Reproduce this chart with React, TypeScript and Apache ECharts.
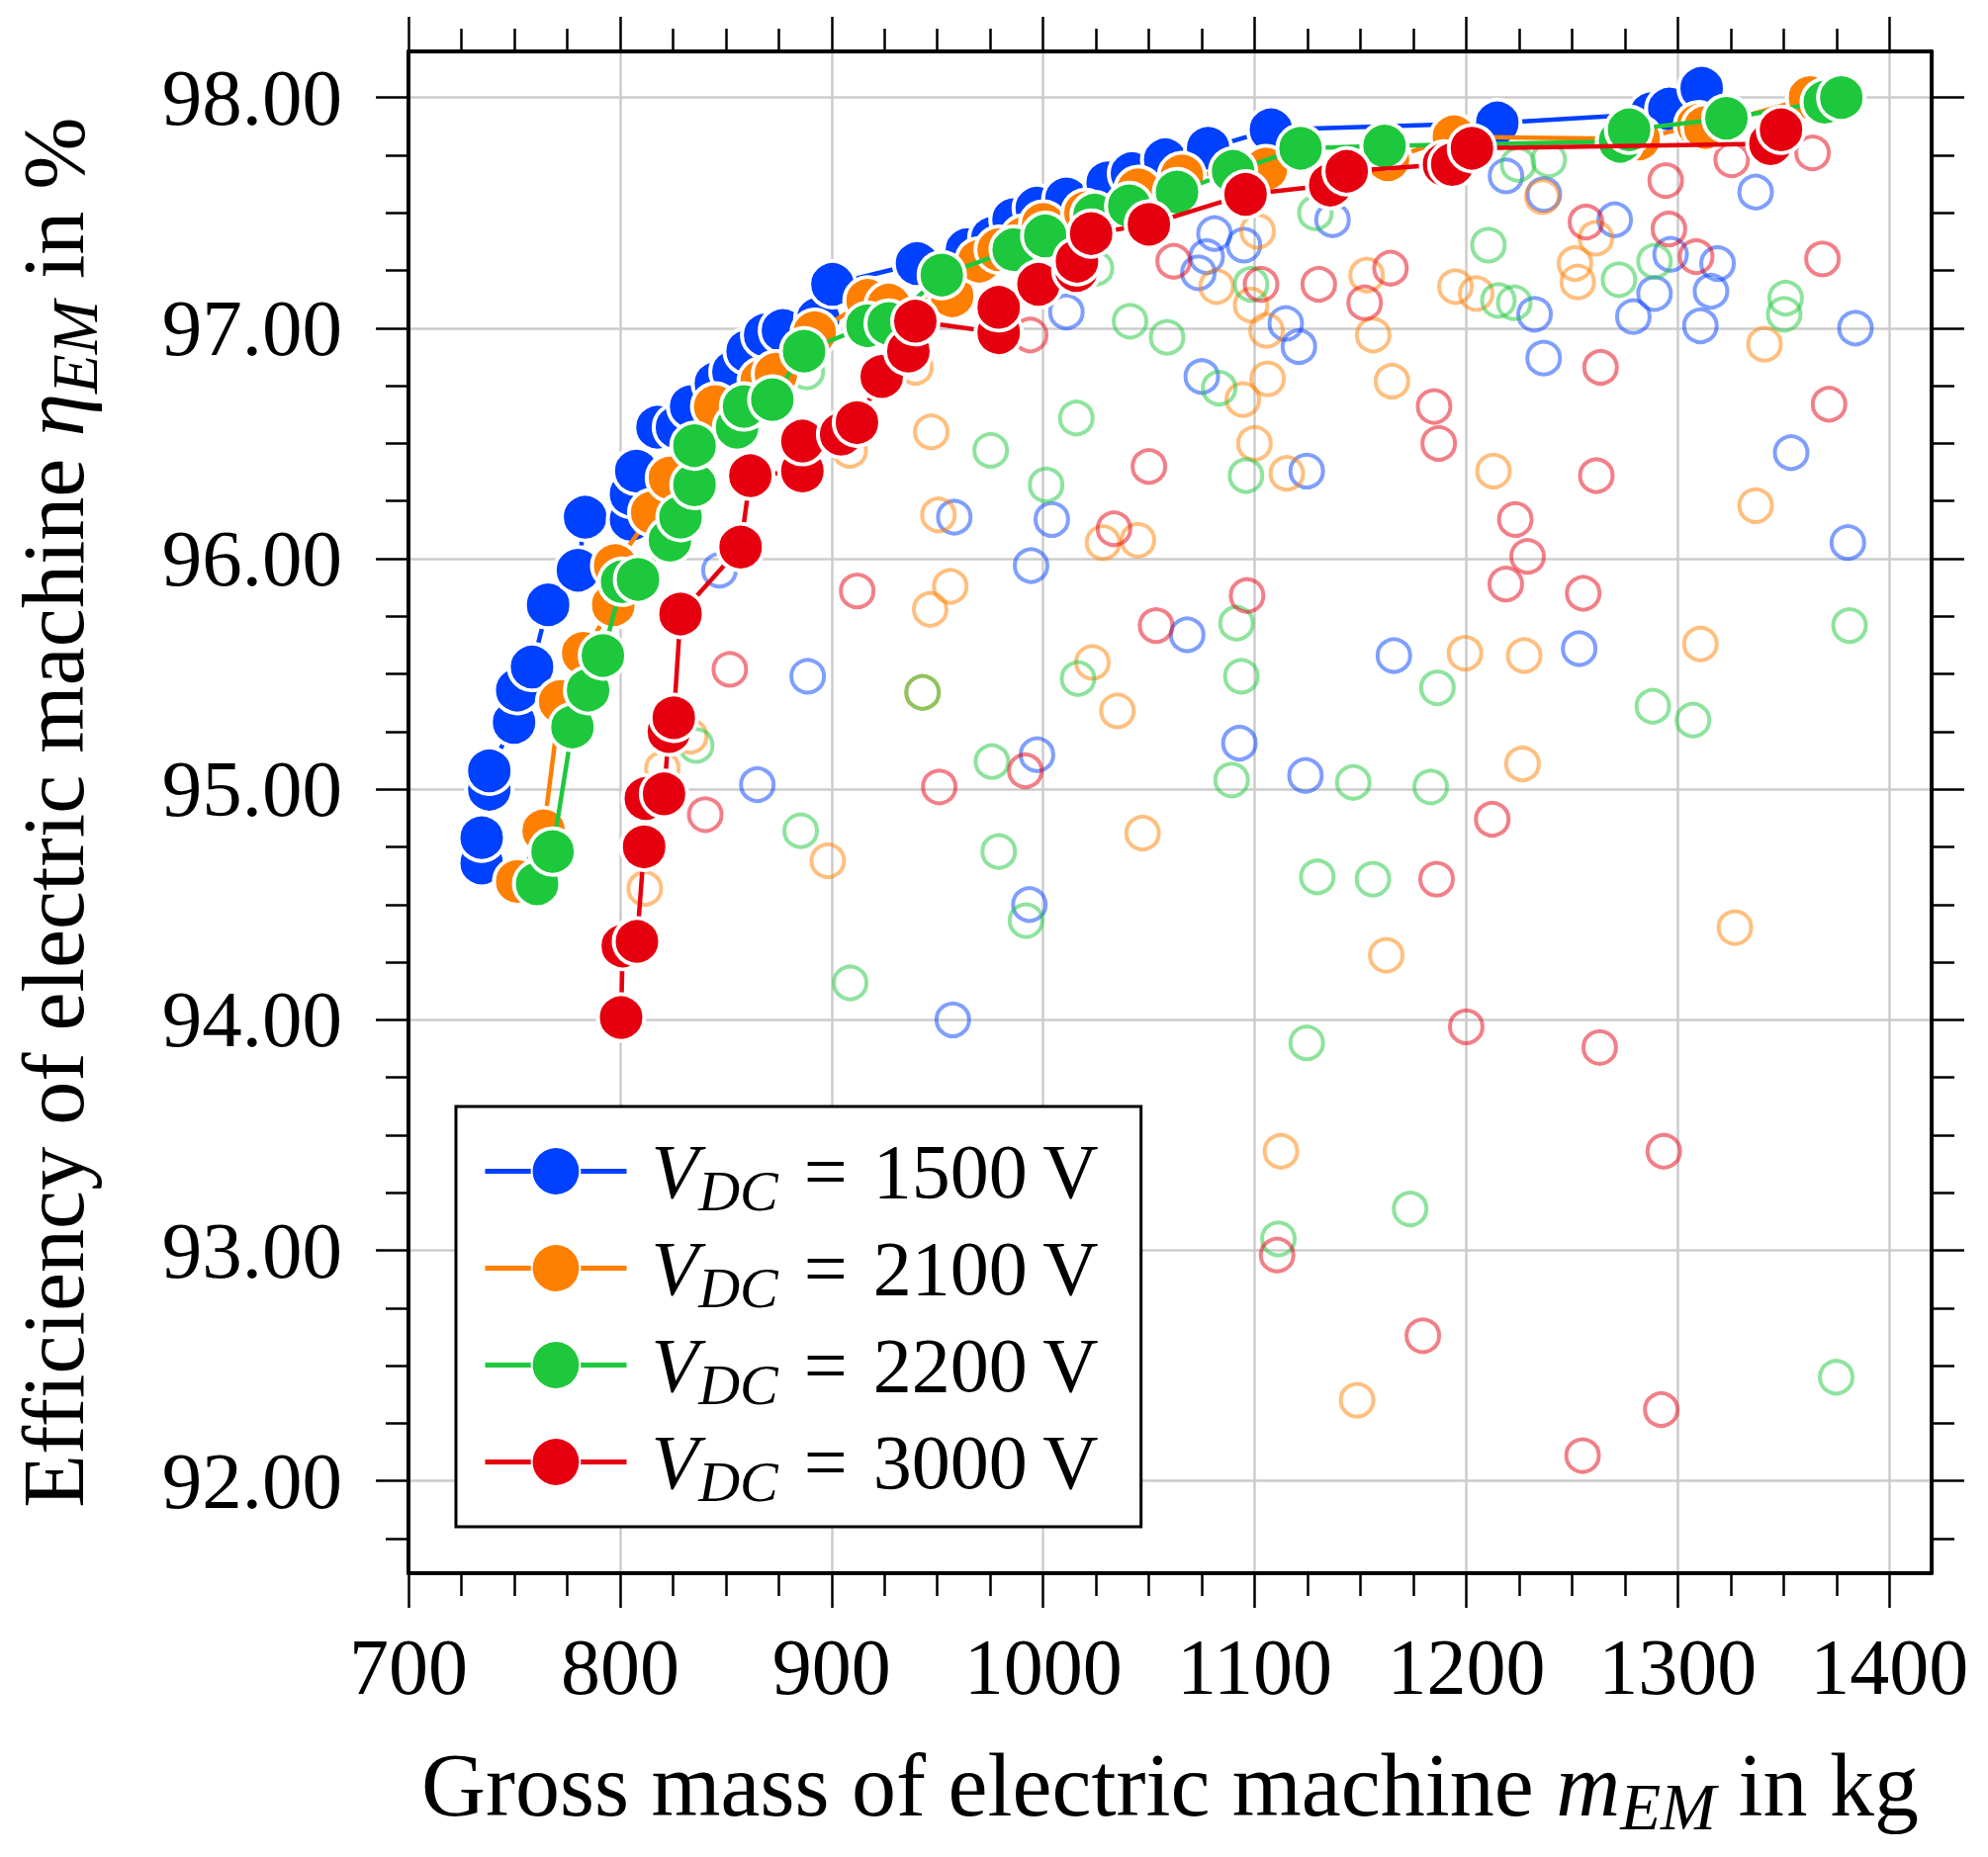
import React, { useEffect, useRef } from "react";
import * as echarts from "echarts";

const FONT = "'Liberation Serif', 'DejaVu Serif', serif";

const voltages = ["1500", "2100", "2200", "3000"];
const colors = ["#0040ff", "#ff7f00", "#1ec83c", "#e6000f"];

const xMajorTicks = [700, 800, 900, 1000, 1100, 1200, 1300, 1400];
const xMinorTicks = [725, 750, 775, 825, 850, 875, 925, 950, 975, 1025, 1050, 1075, 1125, 1150, 1175, 1225, 1250, 1275, 1325, 1350, 1375];
const yMajorTicks = [92, 93, 94, 95, 96, 97, 98];
const yMinorTicks = [91.75, 92.25, 92.5, 92.75, 93.25, 93.5, 93.75, 94.25, 94.5, 94.75, 95.25, 95.5, 95.75, 96.25, 96.5, 96.75, 97.25, 97.5, 97.75];

// Pareto fronts (filled markers, connected)
const front1500 = [
  [734.6, 94.68], [734.6, 94.79], [738.2, 95.0], [738.2, 95.08], [749.9, 95.29], [751.4, 95.43], [758.4, 95.53],
  [766.0, 95.8], [780.1, 95.95], [783.5, 96.18], [805.2, 96.17], [805.2, 96.28], [807.7, 96.38], [817.7, 96.57],
  [826.9, 96.57], [833.6, 96.66], [845.3, 96.76], [853.6, 96.81], [860.3, 96.9], [868.6, 96.97], [877.0, 96.99],
  [893.7, 97.04], [900.4, 97.19], [940.4, 97.28], [964, 97.34], [976, 97.39], [986, 97.47], [997, 97.52],
  [1011, 97.56], [1030.5, 97.63], [1042, 97.67], [1057.7, 97.73], [1078, 97.78], [1107.7, 97.86],
  [1214.7, 97.89], [1287.6, 97.93], [1296, 97.95], [1311.3, 98.04],
];
const front2100 = [
  [751.4, 94.6], [763.9, 94.82], [771.7, 95.38], [782.6, 95.59], [796.8, 95.8], [797.7, 95.97], [815.2, 96.2],
  [823.6, 96.35], [845, 96.66], [867, 96.77], [873.7, 96.8], [892, 96.98], [917, 97.12], [927, 97.1],
  [957, 97.14], [969.8, 97.29], [979, 97.34], [991, 97.39], [1000, 97.45], [1020, 97.5], [1045, 97.6],
  [1065.6, 97.66], [1105.3, 97.69], [1163, 97.73], [1194.2, 97.83], [1281.5, 97.82], [1309.6, 97.88],
  [1313, 97.87], [1362.5, 98.0],
];
const front2200 = [
  [760.8, 94.59], [768.1, 94.73], [777.5, 95.27], [784.9, 95.43], [791.9, 95.58], [801, 95.9], [808.5, 95.91],
  [823.6, 96.08], [828.6, 96.18], [835.2, 96.32], [835.2, 96.49], [855.3, 96.57], [858.6, 96.66], [872, 96.69],
  [887, 96.9], [917, 97.01], [927, 97.02], [952.1, 97.23], [986.1, 97.34], [1001, 97.4], [1024.3, 97.49],
  [1040.7, 97.53], [1063.3, 97.59], [1089.8, 97.68], [1121.7, 97.78], [1161.4, 97.79], [1272.7, 97.81],
  [1277, 97.86], [1323, 97.91], [1369.5, 97.98], [1377.3, 98.0],
];
const front3000 = [
  [800.5, 94.01], [801.3, 94.32], [808, 94.34], [811.4, 94.75], [812.2, 94.96], [820.8, 94.98], [823.1, 95.25],
  [825.4, 95.31], [828.6, 95.76], [857, 96.05], [861.6, 96.36], [886.2, 96.38], [886.2, 96.51], [904.5, 96.54],
  [912, 96.59], [923.7, 96.79], [936.3, 96.9], [939.6, 97.03], [979, 96.98], [979, 97.09], [997.8, 97.19],
  [1015.7, 97.25], [1016, 97.29], [1022.7, 97.41], [1050, 97.45], [1095.7, 97.58], [1135.7, 97.62],
  [1143.5, 97.68], [1189.5, 97.71], [1193.4, 97.71], [1202.7, 97.78], [1343.8, 97.8], [1348.8, 97.86],
];

// Dominated designs (hollow markers)
const other1500 = [
  [847, 95.95], [864.9, 95.02], [888.7, 95.49], [958, 96.18], [957.3, 94.0], [994.3, 95.97], [1004.1, 96.17],
  [997.1, 95.15], [993.5, 94.5], [1011, 97.07], [1068.1, 95.67], [1073.4, 97.24], [1077.3, 97.31], [1081, 97.41],
  [1075, 96.79], [1092.8, 95.2], [1094.9, 97.36], [1114.7, 97.02], [1120.9, 96.92], [1124.6, 96.38], [1124, 95.06],
  [1136.8, 97.47], [1165.8, 95.58], [1218.8, 97.66], [1236.7, 97.58], [1232.3, 97.06], [1236.6, 96.87],
  [1253.4, 95.61], [1270.2, 97.47], [1279, 97.05], [1289, 97.15], [1296.6, 97.32], [1310.7, 97.01],
  [1315.7, 97.16], [1318.8, 97.28], [1336.8, 97.59], [1353.6, 96.46], [1380.4, 96.07], [1384, 97.0],
];
const other2100 = [
  [811.7, 94.57], [820, 95.09], [833.2, 95.23], [898.2, 94.69], [908.6, 96.47], [939.6, 96.83], [943, 95.42],
  [946.6, 95.78], [947.1, 96.55], [950.5, 96.19], [956.1, 95.88], [1023.3, 95.55], [1028.3, 96.07], [1035.1, 95.34],
  [1044.8, 96.08], [1047, 94.81], [1082, 97.18], [1094.4, 96.69], [1098.3, 97.1], [1099.9, 96.5], [1101.4, 97.42],
  [1105.6, 96.99], [1106.1, 96.78], [1112.4, 93.43], [1115.2, 96.37], [1148.4, 92.35], [1152.9, 97.23],
  [1156, 96.97], [1162.2, 94.28], [1164.9, 96.77], [1194.9, 97.18], [1199.4, 95.59], [1204.7, 97.15],
  [1212.9, 96.38], [1226.6, 95.11], [1227.4, 95.58], [1236, 97.57], [1251.4, 97.28], [1252.7, 97.2],
  [1261.3, 97.39], [1310.7, 95.63], [1327, 94.4], [1336.8, 96.23], [1341, 96.93],
];
const other2200 = [
  [836, 95.19], [885.4, 94.82], [888.3, 96.81], [908.8, 94.16], [943, 95.42], [975.2, 96.47], [975.8, 95.12],
  [979, 94.73], [991.9, 94.43], [1001.4, 96.32], [1015.7, 96.61], [1016.5, 95.48], [1025, 97.26], [1041.1, 97.03],
  [1058.6, 96.96], [1083.2, 96.74], [1089.1, 95.04], [1091.4, 95.72], [1093.7, 95.49], [1095.9, 96.36],
  [1098.3, 97.19], [1111.2, 93.05], [1124.6, 93.9], [1128.7, 97.5], [1129.6, 94.62], [1146.6, 95.03],
  [1155.9, 94.61], [1173.5, 93.18], [1183.2, 95.01], [1186.4, 95.44], [1210.5, 97.36], [1215.2, 97.12],
  [1222.7, 97.11], [1224.5, 97.71], [1239, 97.73], [1272.2, 97.21], [1288.2, 95.36], [1289, 97.29],
  [1307.2, 95.3], [1350.3, 97.06], [1351, 97.13], [1374.9, 92.45], [1381.2, 95.71],
];
const other3000 = [
  [840.3, 94.89], [851.9, 95.52], [912.1, 95.86], [950.9, 95.01], [991.6, 95.08], [993.9, 96.97], [1033.5, 96.13],
  [1050, 96.4], [1053.4, 95.71], [1061.7, 97.29], [1096.4, 95.84], [1103, 97.19], [1110.6, 92.98], [1130.3, 97.19],
  [1152, 97.11], [1164.2, 97.26], [1179.5, 92.63], [1184.8, 96.66], [1186, 94.61], [1187, 96.5], [1200, 93.97],
  [1212.3, 94.87], [1218.7, 95.89], [1223.2, 96.17], [1229, 96.01], [1255, 92.11], [1255.3, 95.85],
  [1256.6, 97.46], [1261.5, 96.36], [1263.1, 93.88], [1263.5, 96.83], [1292.2, 92.31], [1293.4, 93.43],
  [1294.3, 97.64], [1295.8, 97.43], [1308.7, 97.31], [1325.5, 97.73], [1363.7, 97.76], [1368.4, 97.3],
  [1371.5, 96.67],
];

const fronts = [front1500, front2100, front2200, front3000];
const others = [other1500, other2100, other2200, other3000];

const X_MIN = 700;
const X_MAX = 1420;
const Y_MIN = 91.6;
const Y_MAX = 98.2;

function buildOption() {
  const seriesNames = voltages.map((v) => `VDC ${v}`);
  const sortPts = (arr: number[][]) =>
    arr.slice().sort((a, b) => (a[0] - b[0]) || (a[1] - b[1]));

  const hollow = others.map((pts, i) => ({
    type: "scatter",
    name: `dominated ${voltages[i]}`,
    data: pts,
    xAxisIndex: 0,
    yAxisIndex: 0,
    symbol: "circle",
    symbolSize: 33,
    itemStyle: { color: "rgba(255,255,255,0)", borderColor: colors[i], borderWidth: 4, opacity: 0.5 },
    emphasis: { disabled: true },
    z: 2,
  }));
  const lines = fronts.map((pts, i) => ({
    type: "line",
    name: seriesNames[i],
    data: sortPts(pts),
    xAxisIndex: 0,
    yAxisIndex: 0,
    symbol: "circle",
    symbolSize: 47,
    showSymbol: true,
    itemStyle: { color: colors[i], borderColor: "#ffffff", borderWidth: 4, opacity: 1 },
    lineStyle: { color: colors[i], width: 4.5 },
    emphasis: { disabled: true },
    z: 3 + i,
  }));

  const tickLine = { color: "#000", width: 2.5 };
  const frameLine = { show: true, lineStyle: { color: "#000", width: 4 } };
  const baseAxis = { type: "value", min: X_MIN, max: X_MAX, gridIndex: 0 };
  const baseYAxis = { type: "value", min: Y_MIN, max: Y_MAX, gridIndex: 0, splitNumber: 6 };

  const titleRich = (size: number) => ({
    i: { fontFamily: FONT, fontStyle: "italic", fontSize: size, lineHeight: 84, color: "#000" },
    s: {
      fontFamily: FONT,
      fontStyle: "italic",
      fontSize: Math.round(size * 0.74),
      lineHeight: 84,
      color: "#000",
      padding: [Math.round(size * 0.49), 0, 0, 0],
    },
  });

  const xAxes = [
    {
      ...baseAxis,
      position: "bottom",
      axisLine: frameLine,
      axisTick: { show: true, inside: false, length: 35, customValues: xMajorTicks, lineStyle: tickLine },
      axisLabel: {
        show: true,
        customValues: xMajorTicks,
        margin: 55,
        fontFamily: FONT,
        fontSize: 80,
        color: "#000",
        formatter: (v: number) => String(v),
      },
      splitLine: { show: true, lineStyle: { color: "#cccccc", width: 2.5 } },
      name: "Gross mass of electric machine {i|m}{s|EM} in kg",
      nameLocation: "middle",
      nameGap: 172,
      nameTextStyle: {
        fontFamily: FONT,
        fontSize: 90,
        color: "#000",
        lineHeight: 84,
        rich: titleRich(90),
      },
    },
    {
      ...baseAxis,
      position: "bottom",
      axisLine: { show: false },
      axisTick: { show: true, inside: false, length: 23, customValues: xMinorTicks, lineStyle: tickLine },
      axisLabel: { show: false },
      splitLine: { show: false },
    },
    {
      ...baseAxis,
      position: "top",
      axisLine: frameLine,
      axisTick: { show: true, inside: false, length: 35, customValues: xMajorTicks, lineStyle: tickLine },
      axisLabel: { show: false },
      splitLine: { show: false },
    },
    {
      ...baseAxis,
      position: "top",
      axisLine: { show: false },
      axisTick: { show: true, inside: false, length: 23, customValues: xMinorTicks, lineStyle: tickLine },
      axisLabel: { show: false },
      splitLine: { show: false },
    },
  ];

  const yAxes = [
    {
      ...baseYAxis,
      position: "left",
      axisLine: frameLine,
      axisTick: { show: true, inside: false, length: 33, customValues: yMajorTicks, lineStyle: tickLine },
      axisLabel: {
        show: true,
        customValues: yMajorTicks,
        margin: 67,
        fontFamily: FONT,
        fontSize: 81,
        color: "#000",
        formatter: (v: number) => v.toFixed(2),
      },
      splitLine: { show: true, lineStyle: { color: "#cccccc", width: 2.5 } },
      name: "Efficiency of electric machine {i|η}{s|EM} in %",
      nameLocation: "middle",
      nameGap: 317,
      nameTextStyle: {
        fontFamily: FONT,
        fontSize: 88,
        color: "#000",
        lineHeight: 84,
        rich: titleRich(88),
      },
    },
    {
      ...baseYAxis,
      position: "left",
      axisLine: { show: false },
      axisTick: { show: true, inside: false, length: 23, customValues: yMinorTicks, lineStyle: tickLine },
      axisLabel: { show: false },
      splitLine: { show: false },
    },
    {
      ...baseYAxis,
      position: "right",
      axisLine: frameLine,
      axisTick: { show: true, inside: false, length: 33, customValues: yMajorTicks, lineStyle: tickLine },
      axisLabel: { show: false },
      splitLine: { show: false },
    },
    {
      ...baseYAxis,
      position: "right",
      axisLine: { show: false },
      axisTick: { show: true, inside: false, length: 23, customValues: yMinorTicks, lineStyle: tickLine },
      axisLabel: { show: false },
      splitLine: { show: false },
    },
  ];

  return {
    animation: false,
    backgroundColor: "#ffffff",
    textStyle: { fontFamily: FONT },
    grid: { left: 413, top: 52, width: 1540, height: 1539, containLabel: false, outerBoundsMode: "none" },
    xAxis: xAxes,
    yAxis: yAxes,
    legend: {
      data: seriesNames,
      orient: "vertical",
      left: 461,
      top: 1119,
      padding: [17, 43, 17, 27],
      itemGap: 1,
      itemWidth: 143,
      itemHeight: 61,
      backgroundColor: "#ffffff",
      borderColor: "#000000",
      borderWidth: 3,
      borderRadius: 0,
      selectedMode: false,
      lineStyle: { width: 5 },
      formatter: (name: string) => {
        const v = name.replace("VDC ", "");
        return `{v|V}{s|DC}{n|\u2004=\u2004${v}\u2009V}`;
      },
      textStyle: {
        fontFamily: FONT,
        fontSize: 78,
        color: "#000",
        lineHeight: 62,
        rich: {
          v: { fontFamily: FONT, fontStyle: "italic", fontSize: 78, lineHeight: 62, color: "#000", padding: [0, 0, 0, 20] },
          s: { fontFamily: FONT, fontStyle: "italic", fontSize: 58, lineHeight: 62, color: "#000", padding: [39, 0, 0, 0] },
          n: { fontFamily: FONT, fontSize: 78, lineHeight: 62, color: "#000" },
        },
      },
      z: 10,
    },
    series: [...hollow, ...lines],
  };
}

export default function App() {
  const ref = useRef<HTMLDivElement | null>(null);
  useEffect(() => {
    document.body.style.margin = "0";
    if (!ref.current) return;
    const chart = echarts.init(ref.current, undefined, { renderer: "svg" });
    chart.setOption(buildOption() as any);
    return () => {
      chart.dispose();
    };
  }, []);
  return <div ref={ref} style={{ width: 2010, height: 1878, background: "#fff" }} />;
}
